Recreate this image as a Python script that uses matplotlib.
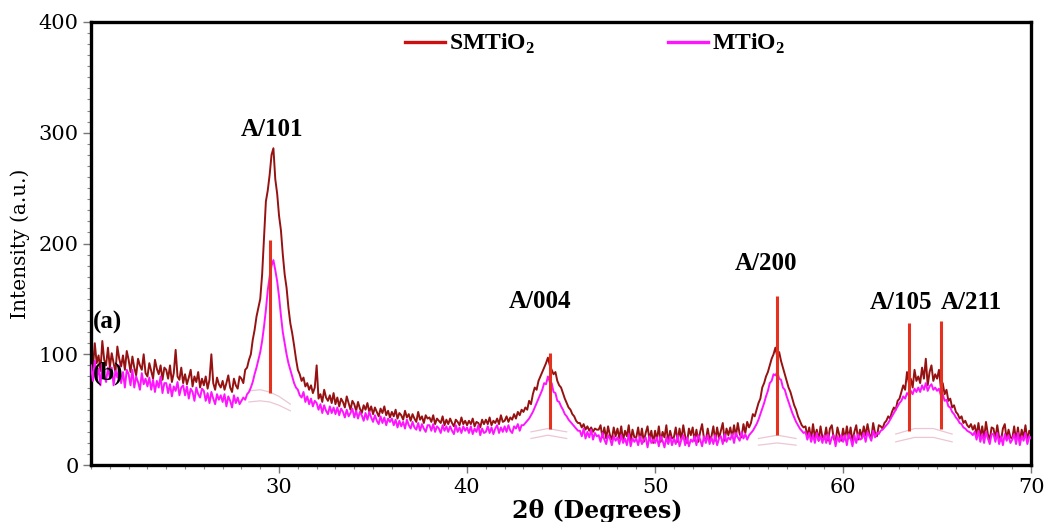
import numpy as np
import matplotlib
matplotlib.use('Agg')
import matplotlib.pyplot as plt
from matplotlib.lines import Line2D
from matplotlib.ticker import MultipleLocator

# intensities, 0.1 degree steps, one row per degree (20..69) + value at 70
smtio2_rows = [
    [104, 88, 110, 92, 99, 85, 112, 95, 90, 106],
    [88, 101, 92, 84, 107, 96, 89, 99, 86, 103],
    [95, 84, 98, 88, 81, 96, 90, 86, 100, 83],
    [80, 92, 85, 78, 95, 87, 82, 90, 77, 88],
    [86, 78, 90, 75, 83, 104, 80, 77, 88, 74],
    [82, 73, 79, 86, 71, 80, 75, 84, 70, 78],
    [72, 80, 69, 77, 100, 74, 68, 79, 73, 70],
    [76, 68, 74, 81, 70, 66, 78, 72, 69, 80],
    [78, 74, 86, 88, 95, 100, 113, 122, 134, 142],
    [150, 172, 205, 238, 248, 262, 280, 286, 258, 245],
    [225, 212, 190, 172, 160, 142, 128, 119, 108, 96],
    [86, 82, 76, 79, 71, 74, 68, 72, 65, 70],
    [90, 60, 64, 57, 68, 61, 58, 63, 56, 65],
    [55, 61, 53, 60, 57, 52, 62, 56, 50, 58],
    [55, 49, 57, 51, 47, 54, 50, 56, 48, 53],
    [46, 52, 48, 44, 51, 47, 53, 45, 49, 43],
    [48, 44, 50, 42, 47, 45, 41, 49, 43, 46],
    [40, 46, 42, 39, 48, 41, 44, 38, 45, 42],
    [43, 39, 45, 37, 42, 40, 38, 44, 36, 41],
    [37, 42, 38, 35, 41, 39, 36, 43, 37, 40],
    [36, 40, 37, 42, 35, 39, 38, 34, 41, 37],
    [41, 37, 43, 36, 40, 38, 42, 37, 45, 39],
    [40, 44, 39, 43, 41, 46, 42, 48, 45, 50],
    [48, 52, 50, 58, 55, 64, 70, 68, 76, 80],
    [84, 88, 92, 97, 90, 86, 82, 84, 76, 72],
    [70, 65, 60, 56, 52, 50, 46, 44, 40, 38],
    [38, 34, 37, 32, 35, 31, 34, 30, 33, 32],
    [32, 36, 25, 34, 24, 35, 27, 23, 34, 26],
    [33, 24, 35, 22, 31, 26, 36, 21, 32, 25],
    [25, 34, 22, 33, 21, 29, 35, 23, 31, 20],
    [31, 23, 35, 21, 30, 25, 36, 20, 31, 24],
    [25, 34, 21, 33, 23, 36, 26, 20, 33, 27],
    [34, 22, 32, 21, 30, 37, 24, 22, 33, 23],
    [26, 35, 22, 34, 24, 31, 38, 22, 33, 27],
    [34, 25, 36, 26, 38, 28, 25, 37, 29, 39],
    [34, 38, 46, 44, 50, 56, 60, 70, 74, 80],
    [84, 90, 96, 100, 106, 98, 102, 94, 88, 82],
    [76, 70, 66, 60, 54, 50, 44, 40, 36, 34],
    [35, 26, 34, 23, 37, 25, 32, 22, 35, 25],
    [24, 34, 22, 33, 36, 24, 21, 34, 27, 22],
    [33, 23, 35, 24, 34, 21, 30, 36, 23, 32],
    [25, 35, 27, 37, 28, 24, 38, 29, 26, 36],
    [35, 33, 38, 40, 44, 42, 48, 52, 50, 58],
    [60, 66, 72, 68, 84, 74, 78, 70, 86, 76],
    [80, 74, 88, 78, 96, 72, 84, 90, 76, 82],
    [78, 86, 70, 74, 64, 68, 58, 60, 52, 54],
    [48, 46, 42, 44, 38, 40, 36, 34, 37, 32],
    [36, 27, 38, 25, 35, 24, 39, 28, 23, 34],
    [33, 24, 36, 25, 22, 33, 37, 23, 32, 25],
    [24, 35, 22, 34, 21, 32, 25, 36, 22, 31],
    [28],
]

mtio2_rows = [
    [90, 76, 94, 79, 87, 72, 92, 81, 75, 88],
    [78, 88, 72, 85, 79, 90, 74, 84, 70, 86],
    [82, 72, 86, 70, 80, 75, 68, 83, 73, 78],
    [71, 79, 68, 77, 66, 76, 70, 80, 65, 74],
    [74, 65, 73, 62, 71, 67, 75, 63, 70, 72],
    [63, 71, 60, 69, 66, 58, 70, 64, 61, 69],
    [67, 58, 65, 56, 66, 60, 55, 64, 59, 63],
    [57, 64, 53, 62, 58, 52, 63, 56, 61, 55],
    [58, 61, 59, 64, 66, 70, 75, 82, 88, 95],
    [102, 112, 125, 140, 158, 170, 180, 185, 176, 166],
    [152, 135, 120, 110, 100, 92, 86, 80, 74, 70],
    [68, 63, 61, 66, 57, 62, 55, 60, 53, 58],
    [56, 50, 55, 47, 54, 49, 46, 53, 47, 52],
    [46, 52, 45, 51, 48, 43, 50, 44, 47, 51],
    [43, 49, 42, 48, 45, 40, 47, 41, 48, 43],
    [39, 45, 40, 37, 44, 38, 43, 36, 42, 39],
    [42, 36, 41, 34, 40, 35, 39, 33, 41, 36],
    [33, 39, 34, 32, 38, 31, 37, 33, 30, 36],
    [36, 31, 37, 30, 35, 33, 29, 36, 31, 35],
    [30, 35, 31, 28, 36, 30, 34, 29, 35, 31],
    [34, 29, 35, 28, 33, 30, 36, 27, 33, 29],
    [30, 35, 29, 34, 28, 33, 36, 29, 34, 30],
    [35, 30, 36, 31, 29, 35, 33, 37, 31, 36],
    [36, 38, 40, 42, 45, 48, 52, 56, 60, 64],
    [68, 74, 73, 80, 75, 74, 66, 65, 58, 57],
    [53, 50, 46, 44, 41, 39, 37, 35, 33, 31],
    [31, 26, 33, 24, 30, 25, 32, 23, 29, 26],
    [27, 21, 29, 23, 19, 27, 24, 18, 26, 22],
    [25, 19, 27, 20, 24, 18, 28, 17, 24, 21],
    [24, 18, 26, 19, 23, 25, 16, 26, 20, 23],
    [20, 25, 17, 26, 22, 16, 25, 19, 26, 18],
    [24, 19, 27, 17, 23, 27, 18, 25, 17, 23],
    [21, 26, 18, 27, 23, 17, 26, 20, 27, 19],
    [25, 19, 27, 18, 24, 26, 19, 28, 21, 25],
    [23, 28, 20, 29, 25, 22, 30, 24, 28, 23],
    [27, 29, 31, 34, 37, 41, 46, 51, 56, 62],
    [67, 74, 76, 82, 81, 84, 78, 77, 70, 68],
    [62, 57, 52, 47, 43, 39, 36, 33, 31, 29],
    [30, 23, 29, 21, 27, 20, 29, 22, 26, 20],
    [27, 20, 28, 19, 25, 27, 17, 26, 21, 27],
    [21, 27, 18, 28, 24, 17, 27, 20, 28, 23],
    [24, 29, 21, 30, 26, 22, 31, 25, 29, 28],
    [31, 32, 34, 36, 38, 41, 44, 47, 50, 53],
    [56, 58, 62, 60, 65, 63, 67, 64, 69, 66],
    [70, 66, 72, 68, 74, 67, 71, 73, 68, 70],
    [67, 69, 63, 64, 58, 59, 53, 52, 48, 46],
    [43, 41, 38, 37, 34, 33, 31, 30, 29, 27],
    [30, 23, 31, 21, 28, 20, 30, 24, 19, 28],
    [28, 21, 29, 19, 26, 18, 28, 22, 27, 20],
    [23, 28, 19, 29, 18, 26, 22, 29, 19, 26],
    [24],
]

# reference pattern sticks (position, bottom, top)
stick_pos = [29.5, 44.4, 56.5, 63.5, 65.2]
stick_bottom = [65, 33, 27, 31, 33]
stick_top = [203, 101, 153, 128, 130]

peak_labels = ['A/101', 'A/004', 'A/200', 'A/105', 'A/211']
label_x = [29.6, 43.9, 55.9, 63.1, 66.8]
label_y = [303, 148, 182, 147, 147]

# faint fitted backgrounds under the peaks
bg_x = [[28.4, 29.0, 29.5, 30.0, 30.6], [43.4, 44.3, 45.3], [55.5, 56.5, 57.5], [62.8, 63.8, 64.8, 65.8]]
bg_a = [[67, 68, 66, 62, 55], [30, 33, 30], [24, 27, 24], [28, 33, 33, 28]]
bg_b = [[57, 58, 57, 54, 49], [24, 27, 24], [18, 20, 18], [21, 25, 25, 21]]

smtio2 = np.concatenate([np.array(r, dtype=float) for r in smtio2_rows])
mtio2 = np.concatenate([np.array(r, dtype=float) for r in mtio2_rows])
two_theta_a = np.linspace(20, 70, len(smtio2))
two_theta_b = np.linspace(20, 70, len(mtio2))

plt.rcParams['font.family'] = ['DejaVu Serif']
plt.rcParams['mathtext.fontset'] = 'custom'
plt.rcParams['mathtext.bf'] = 'Liberation Serif:bold'
plt.rcParams['mathtext.rm'] = 'Liberation Serif'

fig = plt.figure(figsize=(10.5, 5.22), dpi=100)
ax = fig.add_axes([0.0867, 0.109, 0.8953, 0.849])

for xs, ya, yb in zip(bg_x, bg_a, bg_b):
    ax.plot(xs, ya, color='#ecc6d6', lw=0.9, zorder=1)
    ax.plot(xs, yb, color='#ecc6d6', lw=0.9, zorder=1)

ax.plot(two_theta_a, smtio2, color='#961212', lw=1.4, zorder=2)
ax.plot(two_theta_b, mtio2, color='#ff14ff', lw=1.4, zorder=3)
ax.vlines(stick_pos, stick_bottom, stick_top, color='#e4321e', lw=2.2, zorder=4)

bold = {'fontsize': 18, 'fontweight': 'bold', 'family': 'Liberation Serif'}
for t, x, y in zip(peak_labels, label_x, label_y):
    ax.text(x, y, t, ha='center', va='center', **bold)

ax.text(20.1, 129, '(a)', ha='left', va='center', **bold)
ax.text(20.1, 83, '(b)', ha='left', va='center', **bold)

ax.set_xlim(20, 70)
ax.set_ylim(0, 400)
ax.xaxis.set_major_locator(MultipleLocator(10))
ax.xaxis.set_minor_locator(MultipleLocator(1))
ax.yaxis.set_major_locator(MultipleLocator(100))
ax.yaxis.set_minor_locator(MultipleLocator(10))
ax.set_xticks([30, 40, 50, 60, 70])
ax.tick_params(which='major', length=6, width=1.0, labelsize=15, color='#777777')
ax.tick_params(which='minor', length=3, width=0.8, color='#888888')
ax.tick_params(axis='x', which='major', pad=3)
ax.tick_params(axis='y', which='major', pad=3)
for s in ax.spines.values():
    s.set_linewidth(2.4)

ax.set_ylabel('Intensity (a.u.)', fontsize=14.5, labelpad=6)
ax.set_xlabel('2θ (Degrees)', fontsize=17, fontweight='bold', labelpad=2)
ax.xaxis.set_label_coords(0.538, -0.077)

handles = [Line2D([], [], color='#cc1010', lw=2.4), Line2D([], [], color='#ff14ff', lw=2.4)]
ax.legend(handles, ['SMTiO$_\\mathbf{2}$', 'MTiO$_\\mathbf{2}$'], loc='upper center',
          bbox_to_anchor=(0.536, 1.025), ncol=2, frameon=False, handlelength=1.7,
          handletextpad=0.2, columnspacing=5.6,
          prop={'family': 'Liberation Serif', 'weight': 'bold', 'size': 17})

fig.savefig('out.png', dpi=100)
